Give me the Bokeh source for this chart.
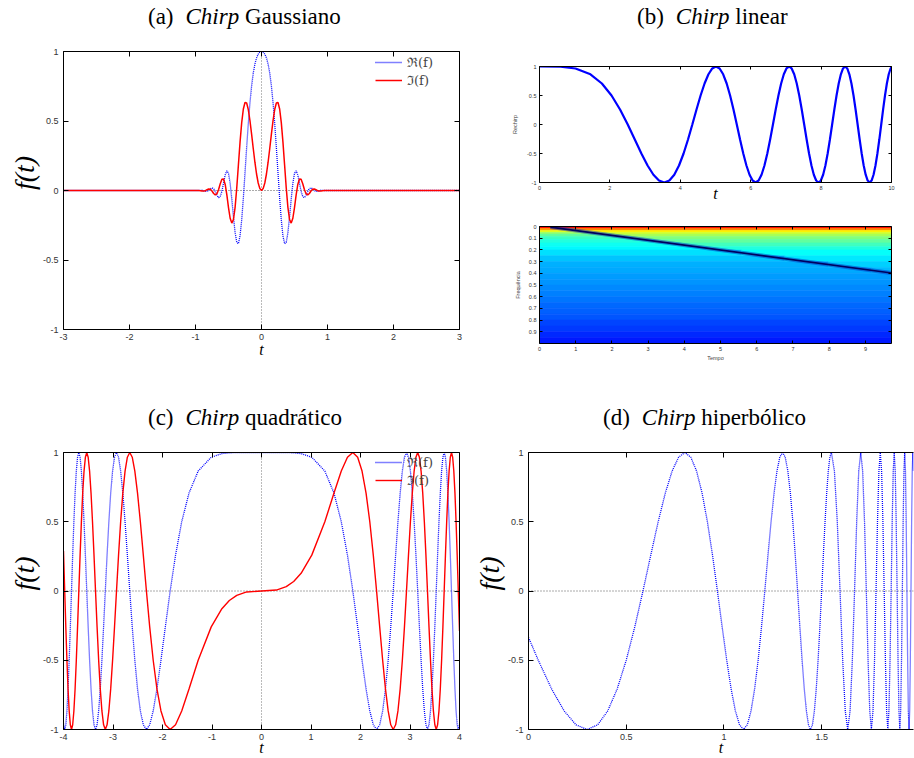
from bokeh.plotting import figure
from bokeh.layouts import row, column
from bokeh.models import (Range1d, LinearAxis, FixedTicker, NumeralTickFormatter,
                          CustomJSTickFormatter, Span, Legend, LegendItem, Div,
                          ColumnDataSource, LinearColorMapper)
from bokeh.transform import transform
from bokeh.embed import file_html
from bokeh.resources import INLINE

# ------------------------------------------------------------------ data
# (a) Chirp Gaussiano : real part (blue dotted) and imaginary part (red)
a_t = [-3.0, -1.0, -0.95, -0.9, -0.875, -0.85, -0.825, -0.8, -0.775, -0.75, -0.725, -0.7,
       -0.675, -0.65, -0.625, -0.6, -0.575, -0.55, -0.525, -0.5, -0.475, -0.45, -0.425, -0.4,
       -0.375, -0.35, -0.325, -0.3, -0.275, -0.25, -0.225, -0.2, -0.175, -0.15, -0.125, -0.1,
       -0.075, -0.05, -0.025, 0.0, 0.025, 0.05, 0.075, 0.1, 0.125, 0.15, 0.175, 0.2, 0.225,
       0.25, 0.275, 0.3, 0.325, 0.35, 0.375, 0.4, 0.425, 0.45, 0.475, 0.5, 0.525, 0.55, 0.575,
       0.6, 0.625, 0.65, 0.675, 0.7, 0.725, 0.75, 0.775, 0.8, 0.825, 0.85, 0.875, 0.9, 0.95,
       1.0, 3.0]
a_re = [0.0, 0.0, 0.0, 0.0018, -0.002, -0.0062, -0.0063, 0.0006, 0.0119, 0.0191, 0.0135, -0.0069,
        -0.034, -0.0515, -0.0437, -0.0053, 0.0542, 0.1121, 0.1418, 0.1232, 0.0513, -0.0617, -0.1901, -0.3027,
        -0.3733, -0.3823, -0.3265, -0.2118, -0.0547, 0.1256, 0.3097, 0.4816, 0.6307, 0.7518, 0.844, 0.9099,
        0.954, 0.9812, 0.9955, 1.0, 0.9955, 0.9812, 0.954, 0.9099, 0.844, 0.7518, 0.6307, 0.4816, 0.3097,
        0.1256, -0.0547, -0.2118, -0.3265, -0.3823, -0.3733, -0.3027, -0.1901, -0.0617, 0.0513, 0.1232, 0.1418, 0.1121, 0.0542,
        -0.0053, -0.0437, -0.0515, -0.034, -0.0069, 0.0135, 0.0191, 0.0119, 0.0006, -0.0063, -0.0062, -0.002, 0.0018, 0.0,
        0.0, 0.0]
a_im = [0.0, 0.0, 0.0, -0.003, -0.0043, -0.0012, 0.0057, 0.0113, 0.009, -0.0037, -0.0213, -0.0316,
        -0.0232, 0.0067, 0.048, 0.0803, 0.0826, 0.0437, -0.0316, -0.1226, -0.1996, -0.2343, -0.2088, -0.1213,
        0.0179, 0.1839, 0.3483, 0.4887, 0.5865, 0.6333, 0.6295, 0.5825, 0.5036, 0.4058, 0.3021, 0.2034,
        0.1187, 0.054, 0.0137, 0.0, 0.0137, 0.054, 0.1187, 0.2034, 0.3021, 0.4058, 0.5036, 0.5825, 0.6295,
        0.6333, 0.5865, 0.4887, 0.3483, 0.1839, 0.0179, -0.1213, -0.2088, -0.2343, -0.1996, -0.1226, -0.0316, 0.0437, 0.0826,
        0.0803, 0.048, 0.0067, -0.0232, -0.0316, -0.0213, -0.0037, 0.009, 0.0113, 0.0057, -0.0012, -0.0043, -0.003, 0.0,
        0.0, 0.0]
a_xticks = [-3, -2, -1, 0, 1, 2, 3]
f_yticks = [-1, -0.5, 0, 0.5, 1]

# (b) Chirp linear : real part over time
b_t = [0.0, 0.6, 1.0233, 1.4472, 1.7725, 2.0466, 2.2882, 2.5066, 2.7075, 2.8944, 3.07, 3.2361,
       3.394, 3.5449, 3.6897, 3.829, 3.9633, 4.0933, 4.2193, 4.3416, 4.4606, 4.5765, 4.6895, 4.7998,
       4.9077, 5.0133, 5.1166, 5.218, 5.3174, 5.4149, 5.5108, 5.605, 5.6977, 5.7888, 5.8786, 5.967,
       6.0541, 6.14, 6.2246, 6.3082, 6.3907, 6.4721, 6.5525, 6.6319, 6.7104, 6.788, 6.8647, 6.9406,
       7.0156, 7.0899, 7.1633, 7.236, 7.308, 7.3793, 7.4499, 7.5199, 7.5892, 7.6579, 7.726, 7.7934,
       7.8603, 7.9267, 7.9924, 8.0577, 8.1224, 8.1866, 8.2503, 8.3135, 8.3763, 8.4386, 8.5004, 8.5618,
       8.6227, 8.6832, 8.7433, 8.803, 8.8623, 8.9212, 8.9797, 9.0378, 9.0955, 9.1529, 9.2099, 9.2666,
       9.323, 9.3789, 9.4346, 9.4899, 9.545, 9.5997, 9.654, 9.7081, 9.7619, 9.8154, 9.8686, 9.9215,
       9.9742, 10.0]
b_re = [1.0, 0.996,
        0.966, 0.866, 0.707, 0.5, 0.259, 0.0, -0.259, -0.5, -0.707, -0.866, -0.966, -1.0,
        -0.966, -0.866, -0.707, -0.5, -0.259, 0.0, 0.259, 0.5, 0.707, 0.866, 0.966, 1.0,
        0.966, 0.866, 0.707, 0.5, 0.259, 0.0, -0.259, -0.5, -0.707, -0.866, -0.966, -1.0,
        -0.966, -0.866, -0.707, -0.5, -0.259, 0.0, 0.259, 0.5, 0.707, 0.866, 0.966, 1.0,
        0.966, 0.866, 0.707, 0.5, 0.259, 0.0, -0.259, -0.5, -0.707, -0.866, -0.966, -1.0,
        -0.966, -0.866, -0.707, -0.5, -0.259, 0.0, 0.259, 0.5, 0.707, 0.866, 0.966, 1.0,
        0.966, 0.866, 0.707, 0.5, 0.259, 0.0, -0.259, -0.5, -0.707, -0.866, -0.966, -1.0,
        -0.966, -0.866, -0.707, -0.5, -0.259, 0.0, 0.259, 0.5, 0.707, 0.866, 0.966,
        0.991]
b_xticks = [0, 2, 4, 6, 8, 10]

# (b) spectrogram: frequency bands, colour level below / above the ridge, and the ridge
spec_edges = [0.0, 0.017, 0.034, 0.05, 0.065, 0.085, 0.11, 0.14, 0.17, 0.2, 0.25, 0.3,
              0.35, 0.4, 0.45, 0.5, 0.55, 0.6, 0.65, 0.7, 0.75, 0.8, 0.85, 0.9, 0.95, 1.0]
spec_below = [0.86, 0.72, 0.6, 0.52, 0.47, 0.43, 0.41, 0.39, 0.37, 0.345, 0.32, 0.3,
              0.29, 0.28, 0.27, 0.26, 0.25, 0.24, 0.23, 0.22, 0.21, 0.195, 0.18, 0.165, 0.15]
spec_above = [0.86, 0.74, 0.64, 0.58, 0.54, 0.5, 0.47, 0.44, 0.41, 0.38, 0.355, 0.33,
              0.31, 0.28, 0.27, 0.26, 0.25, 0.24, 0.23, 0.22, 0.21, 0.195, 0.18, 0.165, 0.15]
ridge_t = [0.3, 9.72]
ridge_f = [0.005, 0.398]
spec_t_end = 9.72
spec_xticks = [0, 1, 2, 3, 4, 5, 6, 7, 8, 9]
spec_yticks = [0, 0.1, 0.2, 0.3, 0.4, 0.5, 0.6, 0.7, 0.8, 0.9]

# (c) Chirp quadratico
c_t = [-4.0, -3.9975, -3.9755, -3.9533, -3.9308, -3.9081, -3.8851, -3.8619, -3.8383, -3.8145,
       -3.7903, -3.7659, -3.7411, -3.716, -3.6905, -3.6647, -3.6385, -3.612, -3.5851, -3.5577,
       -3.5299, -3.5016, -3.4729, -3.4437, -3.4141, -3.3838, -3.3531, -3.3217, -3.2898, -3.2572,
       -3.224, -3.19, -3.1554, -3.1199, -3.0836, -3.0465, -3.0084, -2.9693, -2.9292, -2.8879,
       -2.8454, -2.8017, -2.7565, -2.7098, -2.6613, -2.6111, -2.5589, -2.5044, -2.4475, -2.3878,
       -2.3249, -2.2584, -2.1878, -2.1123, -2.031, -1.9426, -1.8453, -1.7365, -1.612, -1.4646,
       -1.2794, -1.0155, -0.8, -0.65, -0.5, -0.3,
       0.0,
       0.3, 0.5, 0.65, 0.8,
       1.0155, 1.2794, 1.4646, 1.612, 1.7365, 1.8453, 1.9426, 2.031, 2.1123, 2.1878,
       2.2584, 2.3249, 2.3878, 2.4475, 2.5044, 2.5589, 2.6111, 2.6613, 2.7098, 2.7565,
       2.8017, 2.8454, 2.8879, 2.9292, 2.9693, 3.0084, 3.0465, 3.0836, 3.1199, 3.1554,
       3.19, 3.224, 3.2572, 3.2898, 3.3217, 3.3531, 3.3838, 3.4141, 3.4437, 3.4729,
       3.5016, 3.5299, 3.5577, 3.5851, 3.612, 3.6385, 3.6647, 3.6905, 3.716, 3.7411,
       3.7659, 3.7903, 3.8145, 3.8383, 3.8619, 3.8851, 3.9081, 3.9308, 3.9533, 3.9755,
       3.9975, 4.0]
c_re = [-0.958,
        -0.966, -1.0, -0.966, -0.866, -0.707, -0.5, -0.259, 0.0, 0.259, 0.5, 0.707, 0.866, 0.966,
        1.0,
        0.966, 0.866, 0.707, 0.5, 0.259, 0.0, -0.259, -0.5, -0.707, -0.866, -0.966, -1.0,
        -0.966, -0.866, -0.707, -0.5, -0.259, 0.0, 0.259, 0.5, 0.707, 0.866, 0.966,
        1.0,
        0.966, 0.866, 0.707, 0.5, 0.259, 0.0, -0.259, -0.5, -0.707, -0.866, -0.966, -1.0,
        -0.966, -0.866, -0.707, -0.5, -0.259, 0.0, 0.259, 0.5, 0.707, 0.866, 0.966,
        0.9918, 0.9976, 0.9995, 1.0,
        1.0,
        1.0, 0.9995, 0.9976, 0.9918,
        0.966, 0.866, 0.707, 0.5, 0.259, 0.0, -0.259, -0.5, -0.707, -0.866, -0.966, -1.0,
        -0.966, -0.866, -0.707, -0.5, -0.259, 0.0, 0.259, 0.5, 0.707, 0.866, 0.966,
        1.0,
        0.966, 0.866, 0.707, 0.5, 0.259, 0.0, -0.259, -0.5, -0.707, -0.866, -0.966, -1.0,
        -0.966, -0.866, -0.707, -0.5, -0.259, 0.0, 0.259, 0.5, 0.707, 0.866, 0.966,
        1.0,
        0.966, 0.866, 0.707, 0.5, 0.259, 0.0, -0.259, -0.5, -0.707, -0.866, -0.966, -1.0, -0.966,
        -0.958]
c_im = [0.288,
        0.259, 0.0, -0.259, -0.5, -0.707, -0.866, -0.966, -1.0, -0.966, -0.866, -0.707, -0.5, -0.259,
        0.0,
        0.259, 0.5, 0.707, 0.866, 0.966, 1.0, 0.966, 0.866, 0.707, 0.5, 0.259, 0.0,
        -0.259, -0.5, -0.707, -0.866, -0.966, -1.0, -0.966, -0.866, -0.707, -0.5, -0.259,
        0.0,
        0.259, 0.5, 0.707, 0.866, 0.966, 1.0, 0.966, 0.866, 0.707, 0.5, 0.259, 0.0,
        -0.259, -0.5, -0.707, -0.866, -0.966, -1.0, -0.966, -0.866, -0.707, -0.5, -0.259,
        -0.1277, -0.0686, -0.0312, -0.0068,
        0.0,
        0.0068, 0.0312, 0.0686, 0.1277,
        0.259, 0.5, 0.707, 0.866, 0.966, 1.0, 0.966, 0.866, 0.707, 0.5, 0.259, 0.0,
        -0.259, -0.5, -0.707, -0.866, -0.966, -1.0, -0.966, -0.866, -0.707, -0.5, -0.259,
        0.0,
        0.259, 0.5, 0.707, 0.866, 0.966, 1.0, 0.966, 0.866, 0.707, 0.5, 0.259, 0.0,
        -0.259, -0.5, -0.707, -0.866, -0.966, -1.0, -0.966, -0.866, -0.707, -0.5, -0.259,
        0.0,
        0.259, 0.5, 0.707, 0.866, 0.966, 1.0, 0.966, 0.866, 0.707, 0.5, 0.259, 0.0, -0.259,
        -0.288]
c_xticks = [-4, -3, -2, -1, 0, 1, 2, 3, 4]

# (d) Chirp hiperbolico
d_t = [0.0,
       0.05, 0.1182, 0.1824, 0.2429, 0.3, 0.3541, 0.4053, 0.4538, 0.5, 0.5439, 0.5857, 0.6256,
       0.6636, 0.7, 0.7348, 0.7681, 0.8, 0.8306, 0.86, 0.8882, 0.9154, 0.9415, 0.9667, 0.9909,
       1.0143, 1.0368, 1.0586, 1.0797, 1.1, 1.1197, 1.1387, 1.1571, 1.175, 1.1923, 1.2091, 1.2254,
       1.2412, 1.2565, 1.2714, 1.2859, 1.3, 1.3137, 1.327, 1.34, 1.3526, 1.3649, 1.3769, 1.3886,
       1.4, 1.4111, 1.422, 1.4325, 1.4429, 1.4529, 1.4628, 1.4724, 1.4818, 1.491, 1.5, 1.5088,
       1.5174, 1.5258, 1.534, 1.5421, 1.55,
       1.5653, 1.58, 1.5941, 1.6077, 1.6208, 1.6333, 1.6455, 1.6571, 1.6684, 1.6793, 1.6898, 1.7,
       1.7098, 1.7194, 1.7286, 1.7375, 1.7462, 1.7545, 1.7627, 1.7706, 1.7783, 1.7857, 1.793, 1.8,
       1.8068, 1.8135, 1.82, 1.8263, 1.8325, 1.8385, 1.8443, 1.85, 1.8556, 1.861, 1.8663, 1.8714,
       1.8765, 1.8814, 1.8862, 1.8909, 1.8955, 1.9, 1.9044, 1.9087, 1.9129, 1.917, 1.9211, 1.925,
       1.9289, 1.9327, 1.9364, 1.94, 1.9436, 1.9471, 1.9505, 1.9538, 1.9571, 1.9604, 1.9636, 1.9667,
       1.9697]
d_re = [-0.335,
        -0.5, -0.707, -0.866, -0.966, -1.0, -0.966, -0.866, -0.707, -0.5, -0.259, 0.0, 0.259,
        0.5, 0.707, 0.866, 0.966,
        1.0,
        0.966, 0.866, 0.707, 0.5, 0.259, 0.0, -0.259, -0.5, -0.707, -0.866, -0.966, -1.0,
        -0.966, -0.866, -0.707, -0.5, -0.259, 0.0, 0.259, 0.5, 0.707, 0.866, 0.966,
        1.0,
        0.966, 0.866, 0.707, 0.5, 0.259, 0.0, -0.259, -0.5, -0.707, -0.866, -0.966, -1.0,
        -0.966, -0.866, -0.707, -0.5, -0.259, 0.0, 0.259, 0.5, 0.707, 0.866, 0.966,
        1.0,
        0.866, 0.5, 0.0, -0.5, -0.866, -1.0, -0.866, -0.5, 0.0, 0.5, 0.866, 1.0,
        0.866, 0.5, 0.0, -0.5, -0.866, -1.0, -0.866, -0.5, 0.0, 0.5, 0.866, 1.0,
        0.866, 0.5, 0.0, -0.5, -0.866, -1.0, -0.866, -0.5, 0.0, 0.5, 0.866, 1.0,
        0.866, 0.5, 0.0, -0.5, -0.866, -1.0, -0.866, -0.5, 0.0, 0.5, 0.866, 1.0,
        0.866, 0.5, 0.0, -0.5, -0.866, -1.0, -0.866, -0.5, 0.0, 0.5, 0.866, 1.0,
        0.866]
d_xticks = [0, 0.5, 1, 1.5]

# captions
cap_a = ("(a)", "Chirp", "Gaussiano")
cap_b = ("(b)", "Chirp", "linear")
cap_c = ("(c)", "Chirp", "quadr\u00e1tico")
cap_d = ("(d)", "Chirp", "hiperb\u00f3lico")

assert len(a_t) == len(a_re) == len(a_im)
assert len(b_t) == len(b_re)
assert len(c_t) == len(c_re) == len(c_im)
assert len(d_t) == len(d_re)
assert len(spec_edges) == len(spec_below) + 1 == len(spec_above) + 1

# ------------------------------------------------------------------ styling helpers
SERIF = "Liberation Serif"
SANS = "Liberation Sans"
FRAK = "DejaVu Serif"
BLUE = "#0000ff"
RED = "#ff0000"
NB = "\u00a0" * 5   # lifts the rotated f(t) label above the frame centre, as in the original

SPECS = {
    "a":  dict(w=500, h=360, l=63, r=41, t=21, b=61, x=(-3, 3), y=(-1, 1)),
    "b1": dict(w=414, h=174, l=39, r=23, t=36, b=22, x=(0, 10), y=(-1, 1)),
    "b2": dict(w=414, h=186, l=39, r=23, t=22, b=47, x=(0, spec_t_end), y=(1, 0)),
    "c":  dict(w=470, h=328, l=63, r=11, t=22, b=28, x=(-4, 4), y=(-1, 1)),
    "d":  dict(w=444, h=328, l=54, r=1, t=22, b=28, x=(0, 1.97), y=(-1, 1)),
}


def make_fig(s):
    p = figure(width=s["w"], height=s["h"], x_range=Range1d(*s["x"]), y_range=Range1d(*s["y"]),
               toolbar_location=None, output_backend="svg",
               min_border_left=s["l"], min_border_right=s["r"],
               min_border_top=s["t"], min_border_bottom=s["b"])
    p.xgrid.visible = False
    p.ygrid.visible = False
    p.outline_line_color = None
    p.background_fill_color = "white"
    p.border_fill_color = "white"
    return p


def style_axis(ax, ticks, fsize, tick_len, standoff, labels=True):
    ax.ticker = FixedTicker(ticks=ticks)
    if labels:
        ax.formatter = NumeralTickFormatter(format="0.[0]")
    else:
        ax.formatter = CustomJSTickFormatter(code="return ''")
    ax.axis_line_color = "black"
    ax.axis_line_width = 1
    ax.major_tick_line_color = "black"
    ax.major_tick_in = tick_len
    ax.major_tick_out = 0
    ax.minor_tick_line_color = None
    ax.major_label_text_font = SANS
    ax.major_label_text_font_size = f"{fsize}px"
    ax.major_label_text_color = "#333333"
    ax.major_label_standoff = standoff


def frame_axes(p, xt, yt, fsize, tick_len, xs, ys, right=True):
    style_axis(p.below[0], xt, fsize, tick_len, xs)
    style_axis(p.left[0], yt, fsize, tick_len, ys)
    top = LinearAxis()
    style_axis(top, xt, fsize, tick_len, 0, labels=False)
    p.add_layout(top, "above")
    if right:
        rt = LinearAxis()
        style_axis(rt, yt, fsize, tick_len, 0, labels=False)
        p.add_layout(rt, "right")


def axis_text(ax, text, size, standoff, font=SERIF, style="italic", color="black"):
    ax.axis_label = text
    ax.axis_label_text_font = font
    ax.axis_label_text_font_style = style
    ax.axis_label_text_font_size = f"{size}px"
    ax.axis_label_text_color = color
    ax.axis_label_standoff = standoff


def caption_div(cap, width, height, pad_top, pad_left):
    tag, ital, rest = cap
    html = (f'<div style="margin:0;padding:{pad_top}px 0 0 {pad_left}px;'
            f"font-family:'Liberation Serif',serif;font-size:23px;line-height:17px;"
            f'white-space:nowrap;color:#000">{tag}<i style="margin-left:12px">{ital}</i> {rest}</div>')
    return Div(text=html, width=width, height=height, margin=0)


def zero_lines(p, vertical=True):
    p.add_layout(Span(location=0, dimension="width", line_color="#555555",
                      line_dash="1 2", line_width=1, level="underlay"))
    if vertical:
        p.add_layout(Span(location=0, dimension="height", line_color="#777777",
                          line_dash="1 2", line_width=1, level="underlay"))


def key(p, items, x, y):
    lg = Legend(items=[LegendItem(label=t, renderers=[r]) for t, r in items], location=(x, y),
                orientation="vertical", padding=0, margin=0, spacing=0,
                glyph_width=27, glyph_height=12, label_height=12, label_standoff=5,
                label_text_font=FRAK, label_text_font_size="13px",
                label_text_color="#444444", background_fill_alpha=0, border_line_alpha=0)
    p.add_layout(lg)


def jet_hex(v):
    r = min(1.0, max(0.0, 1.5 - abs(4 * v - 3)))
    g = min(1.0, max(0.0, 1.5 - abs(4 * v - 2)))
    b = min(1.0, max(0.0, 1.5 - abs(4 * v - 1)))
    return "#%02x%02x%02x" % (round(255 * r), round(255 * g), round(255 * b))


JET = [jet_hex(i / 255) for i in range(256)]

# ------------------------------------------------------------------ (a)
pa = make_fig(SPECS["a"])
frame_axes(pa, a_xticks, f_yticks, 9, 5, 4, 5)
zero_lines(pa)
ra = pa.line(a_t, a_re, line_color=BLUE, line_width=1.3, line_dash="1 1")
ia = pa.line(a_t, a_im, line_color=RED, line_width=1.5)
key(pa, [("\u211c(f)", ra), ("\u2111(f)", ia)], 312, 240)
axis_text(pa.below[0], "t", 16, -2)
axis_text(pa.left[0], NB + "f(t)", 28, 0)

# ------------------------------------------------------------------ (b) top
pb1 = make_fig(SPECS["b1"])
frame_axes(pb1, b_xticks, f_yticks, 5.5, 3, 3, 3)
pb1.line(b_t, b_re, line_color=BLUE, line_width=2.2)
axis_text(pb1.below[0], "t", 16, -8)
axis_text(pb1.left[0], "Rechirp", 5.5, 6, font=SANS, style="normal", color="#444444")

# ------------------------------------------------------------------ (b) spectrogram
pb2 = make_fig(SPECS["b2"])
mapper = LinearColorMapper(palette=JET, low=0.0, high=1.0)
q = dict(left=[], right=[], top=[], bottom=[], level=[])
for i in range(len(spec_below)):
    f0, f1 = spec_edges[i], spec_edges[i + 1]
    fm = 0.5 * (f0 + f1)
    ts = ridge_t[0] + (fm - ridge_f[0]) / (ridge_f[1] - ridge_f[0]) * (ridge_t[1] - ridge_t[0])
    ts = min(max(ts, 0.0), spec_t_end)
    for lft, rgt, lev in ((0.0, ts, spec_below[i]), (ts, spec_t_end, spec_above[i])):
        if rgt - lft > 1e-9:
            q["left"].append(lft)
            q["right"].append(rgt)
            q["top"].append(f0)
            q["bottom"].append(f1)
            q["level"].append(lev)
pb2.quad(left="left", right="right", top="top", bottom="bottom", source=ColumnDataSource(q),
         fill_color=transform("level", mapper), line_color=transform("level", mapper),
         line_width=0.6)
pb2.line(ridge_t, ridge_f, line_color="#0030c0", line_width=4, line_alpha=0.5)
pb2.line(ridge_t, ridge_f, line_color="#000060", line_width=1.6)
frame_axes(pb2, spec_xticks, spec_yticks, 5.5, 3, 3, 3)
axis_text(pb2.below[0], "Tempo", 5.5, 1, font=SANS, style="normal", color="#444444")
axis_text(pb2.left[0], "Frequ\u00eancia", 5.5, 5, font=SANS, style="normal", color="#444444")

# ------------------------------------------------------------------ (c)
pc = make_fig(SPECS["c"])
frame_axes(pc, c_xticks, f_yticks, 9, 5, 4, 5)
zero_lines(pc)
rc = pc.line(c_t, c_re, line_color=BLUE, line_width=1.3, line_dash="1 1")
ic = pc.line(c_t, c_im, line_color=RED, line_width=1.4)
key(pc, [("\u211c(f)", rc), ("\u2111(f)", ic)], 312, 240)
axis_text(pc.below[0], "t", 16, -4)
axis_text(pc.left[0], NB + "f(t)", 28, 0)

# ------------------------------------------------------------------ (d)
pd = make_fig(SPECS["d"])
frame_axes(pd, d_xticks, f_yticks, 9, 5, 4, 5, right=False)
zero_lines(pd, vertical=False)
pd.line(d_t, d_re, line_color=BLUE, line_width=1.3, line_dash="1 1")
axis_text(pd.below[0], "t", 16, -4)
axis_text(pd.left[0], NB + "f(t)", 28, 0)

# ------------------------------------------------------------------ layout
div_a = caption_div(cap_a, 500, 30, 8, 148)
div_b = caption_div(cap_b, 414, 30, 8, 137)
div_c = caption_div(cap_c, 470, 40, 19, 148)
div_d = caption_div(cap_d, 444, 40, 19, 133)

layout = column(row(column(div_a, pa), column(div_b, pb1, pb2)),
                row(column(div_c, pc), column(div_d, pd)))
open("out.html", "w").write(file_html(layout, INLINE, title="Chirps"))
